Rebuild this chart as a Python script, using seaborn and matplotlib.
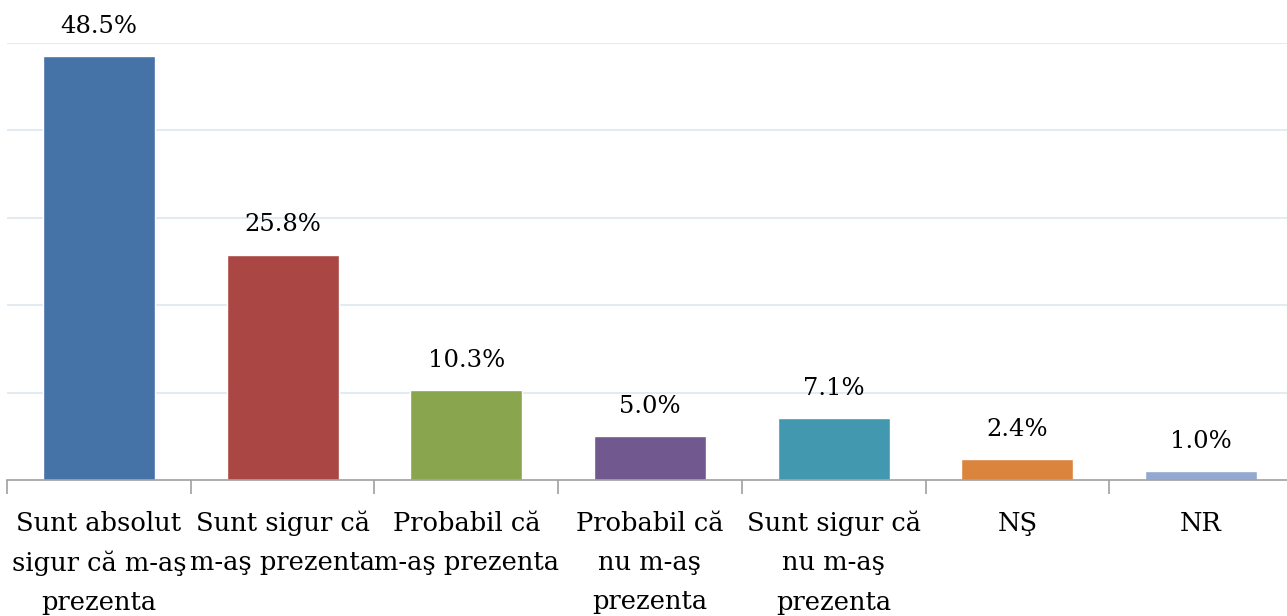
import pandas as pd
import seaborn as sns
import matplotlib.pyplot as plt

# --- DATE ---
categorii = [
    "Sunt absolut\nsigur că m-aş\nprezenta",
    "Sunt sigur că\nm-aş prezenta",
    "Probabil că\nm-aş prezenta",
    "Probabil că\nnu m-aş\nprezenta",
    "Sunt sigur că\nnu m-aş\nprezenta",
    "NŞ",
    "NR",
]
procente = [48.5, 25.8, 10.3, 5.0, 7.1, 2.4, 1.0]
culori = ["#4572A7", "#AA4643", "#89A54E", "#71588F", "#4198AF", "#DB843D", "#93A9CF"]

df = pd.DataFrame({"categorie": categorii, "procent": procente})

sns.set_style("white")
plt.rcParams["font.family"] = ["DejaVu Serif"]

fig = plt.figure(figsize=(12.87, 6.16), dpi=100)
ax = fig.add_axes([7 / 1287, 136 / 616, 1286 / 1287, 437 / 616])

sns.barplot(data=df, x="categorie", y="procent", hue="categorie", palette=culori,
            legend=False, width=0.61, ax=ax, saturation=1)

ax.set_ylim(0, 50)
ax.set_xlim(-0.5, 6.5)
ax.set_yticks([10, 20, 30, 40, 50])
ax.set_yticklabels([])
ax.yaxis.grid(True, color="#dde6f0", linewidth=1.2)
ax.set_axisbelow(True)
ax.tick_params(axis="y", length=0)
ax.set_xlabel("")
ax.set_ylabel("")

for s in ["top", "right", "left"]:
    ax.spines[s].set_visible(False)
ax.spines["bottom"].set_color("#a0a0a0")
ax.spines["bottom"].set_linewidth(1.2)

# tick-uri intre categorii
ax.set_xticks([i - 0.5 for i in range(8)], minor=True)
ax.tick_params(axis="x", which="minor", bottom=True, length=10, color="#a0a0a0", width=1.2)
ax.tick_params(axis="x", which="major", length=0, pad=22, labelsize=18.5, labelcolor="black")
for lbl in ax.get_xticklabels():
    lbl.set_linespacing(1.72)

for i, v in enumerate(procente):
    ax.annotate(f"{v:.1f}%", (i, v), xytext=(0, 13), textcoords="offset points",
                ha="center", va="bottom", fontsize=17.5, color="black")

fig.savefig("out.png", dpi=100)
